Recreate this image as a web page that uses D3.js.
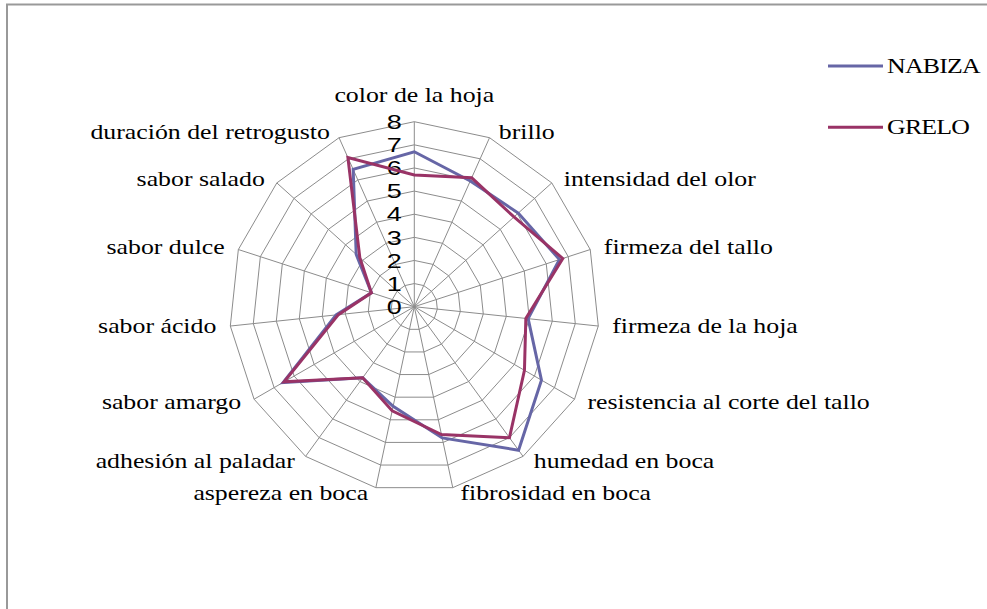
<!DOCTYPE html>
<html>
<head>
<meta charset="utf-8">
<script src="https://cdn.jsdelivr.net/npm/d3@7"></script>
<style>
  body { margin: 0; background: #fff; }
  text { fill: #000; }
</style>
</head>
<body>
<script>
const categories = ["color de la hoja", "brillo", "intensidad del olor", "firmeza del tallo",
    "firmeza de la hoja", "resistencia al corte del tallo", "humedad en boca", "fibrosidad en boca",
    "aspereza en boca", "adhesión al paladar", "sabor amargo", "sabor ácido", "sabor dulce",
    "sabor salado", "duración del retrogusto"]
const nabiza = [6.7, 5.95, 6.05, 6.6, 4.95, 6.35, 7.67, 5.8, 4.4, 3.8, 6.55, 3.4, 1.95, 3.38, 6.5]
const grelo = [5.7, 6.1, 5.8, 6.75, 4.85, 5.5, 7.0, 5.65, 4.6, 3.8, 6.5, 3.3, 1.95, 3.17, 7.06]
const ticks = [0, 1, 2, 3, 4, 5, 6, 7, 8]
const seriesNames = ["NABIZA", "GRELO"]

const width = 987
const height = 609
const cx = 414.3
const cy = 306.7
const serif = "'Liberation Serif', 'Times New Roman', serif"
const sans = "'Liberation Sans', Arial, sans-serif"
const stretch = 1.26   // the picture's text is drawn wider than it is tall

const svg = d3.select('body').append('svg')
    .attr('width', width)
    .attr('height', height)

// chart border (right/bottom fall outside the picture)
svg.append('rect')
    .attr('x', 7).attr('y', 4.5)
    .attr('width', 1100).attr('height', 700)
    .attr('fill', 'none')
    .attr('stroke', '#999')
    .attr('stroke-width', 2)

const r = d3.scaleLinear().domain([0, 8]).range([0, 185])
const angle = d3.scaleLinear().domain([0, categories.length]).range([0, 2 * Math.PI])

const pt = (i, v) => [cx + r(v) * Math.sin(angle(i)), cy - r(v) * Math.cos(angle(i))]

const g = svg.append('g')

// rings
ticks.slice(1).forEach(t => {
    g.append('path')
        .attr('d', d3.line()(categories.map((c, i) => pt(i, t))) + 'Z')
        .attr('fill', 'none')
        .attr('stroke', '#8c8c8c')
        .attr('stroke-width', 1)
})

// spokes
categories.forEach((c, i) => {
    const [x, y] = pt(i, 8)
    g.append('line')
        .attr('x1', cx).attr('y1', cy)
        .attr('x2', x).attr('y2', y)
        .attr('stroke', '#8c8c8c')
        .attr('stroke-width', 1)
})

// category labels
categories.forEach((c, i) => {
    const a = angle(i)
    const s = Math.sin(a), co = Math.cos(a)
    const [x, y] = pt(i, 8)
    let tx, ty, anchor, dy
    if (Math.abs(s) < 0.05) {
        tx = x; ty = y - 20; anchor = 'middle'; dy = 0
    } else {
        tx = x + (6 + 8 * Math.abs(s)) * Math.sign(s)
        ty = y - co * 6
        anchor = s > 0 ? 'start' : 'end'
        dy = '0.33em'
    }
    g.append('text')
        .style('font-family', serif)
        .attr('transform', `translate(${tx},${ty}) scale(${stretch},1)`)
        .attr('dy', dy)
        .attr('text-anchor', anchor)
        .attr('font-size', 20.5)
        .text(c)
})

// tick labels
ticks.forEach(t => {
    g.append('text')
        .style('font-family', sans)
        .attr('transform', `translate(${cx - 12.5},${cy - r(t)}) scale(1.35,1)`)
        .attr('dy', '0.36em')
        .attr('text-anchor', 'end')
        .attr('font-size', 20)
        .text(t)
})

const colors = ["#6666a6", "#993366"]
const series = [nabiza, grelo]

series.forEach((vals, k) => {
    g.append('path')
        .attr('d', d3.line()(vals.map((v, i) => pt(i, v))) + 'Z')
        .attr('fill', 'none')
        .attr('stroke', colors[k])
        .attr('stroke-width', 3)
        .attr('stroke-linejoin', 'miter')
})

// legend
const legend = svg.append('g')
seriesNames.forEach((n, k) => {
    const y = 66 + k * 61.3
    legend.append('line')
        .attr('x1', 828).attr('x2', 883)
        .attr('y1', y).attr('y2', y)
        .attr('stroke', colors[k])
        .attr('stroke-width', 3)
    legend.append('text')
        .style('font-family', serif)
        .attr('transform', `translate(887,${y}) scale(${stretch},1)`)
        .attr('dy', '0.33em')
        .attr('font-size', 20.5)
        .attr('letter-spacing', -0.6)
        .text(n)
})
</script>
</body>
</html>
